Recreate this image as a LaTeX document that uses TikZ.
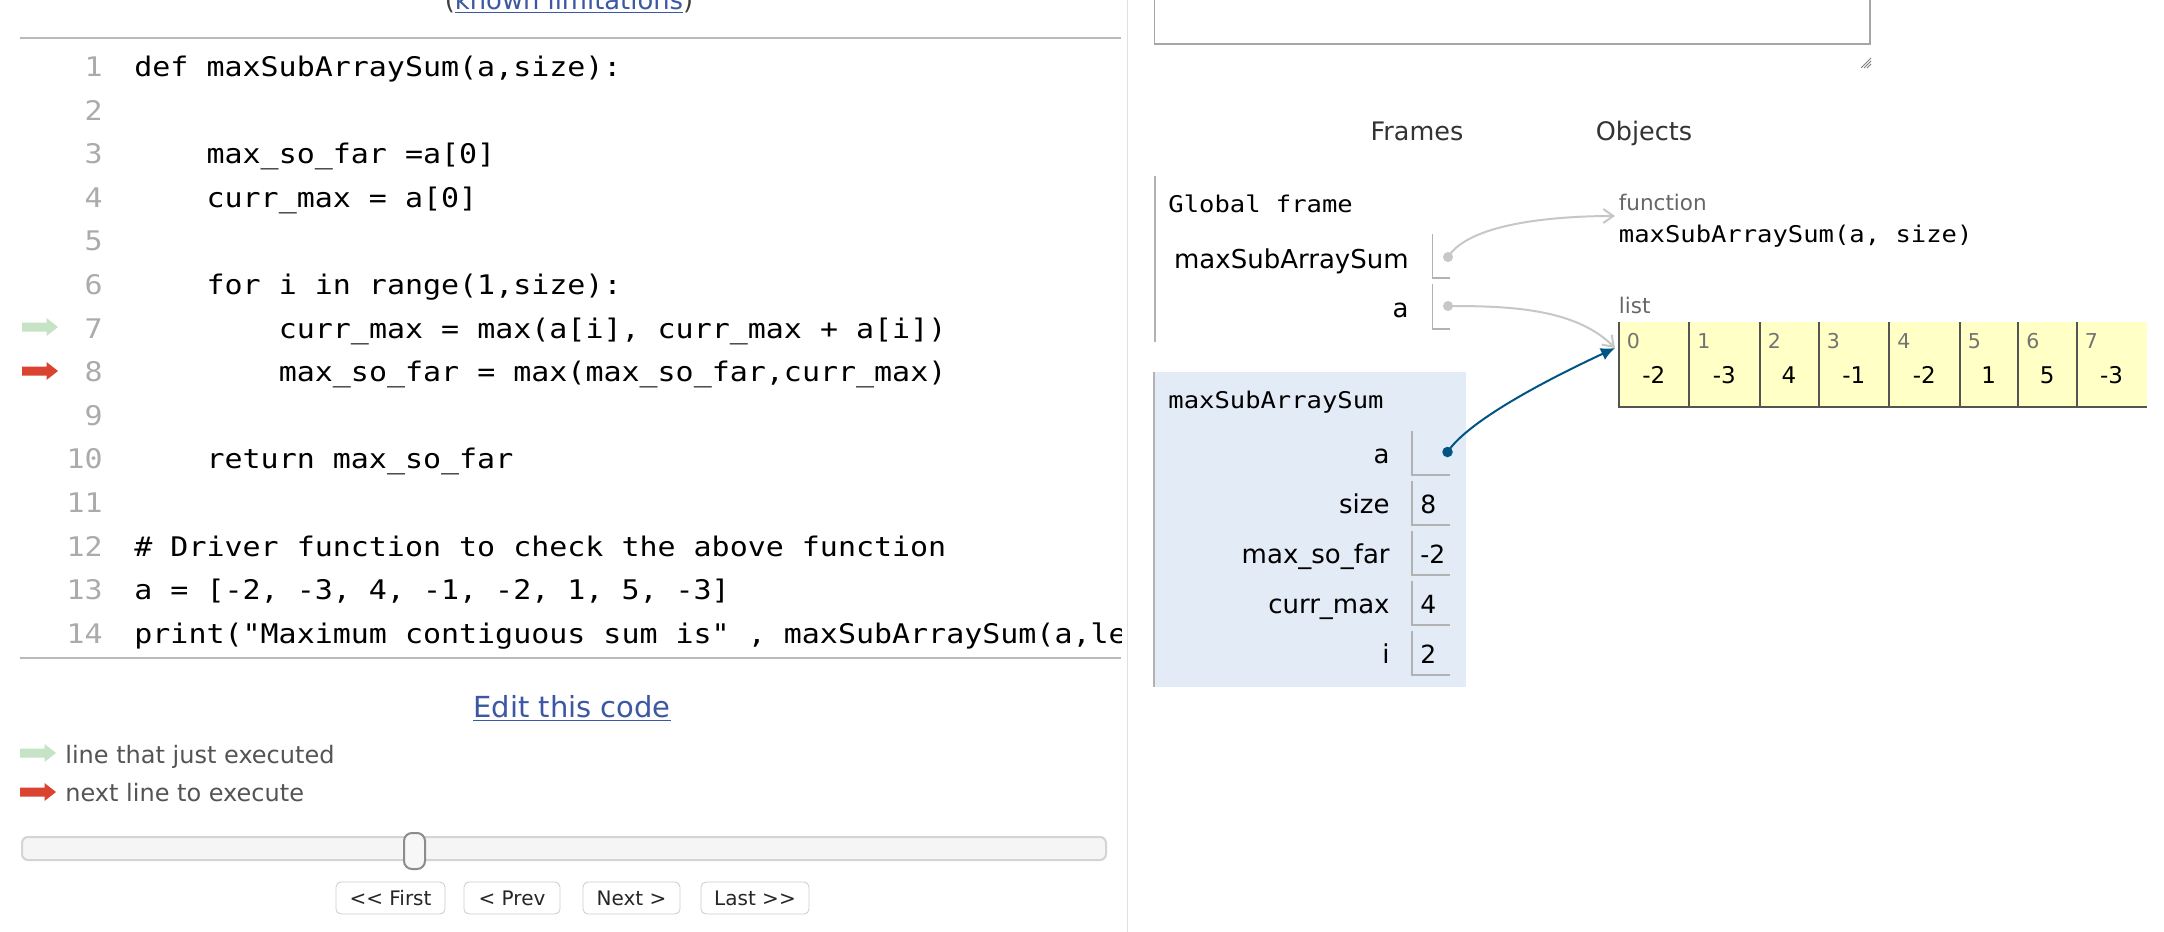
\documentclass[tikz,border=0pt]{standalone}
\usepackage{fontspec}
\setmainfont{DejaVu Sans}
\newfontfamily\koodi[FakeStretch=1.11]{DejaVu Sans Mono}
\usetikzlibrary{arrows.meta}
\definecolor{linkki}{HTML}{3D58A2}
\definecolor{osoitin}{HTML}{005583}
\definecolor{keltainen}{HTML}{FFFFC6}
\definecolor{kehysvari}{HTML}{E2EBF6}
\definecolor{vihrea}{HTML}{C6E3C6}
\definecolor{punainen}{HTML}{D9432F}
\begin{document}
\begin{tikzpicture}[x=0.5pt,y=-0.5pt,
  nro/.style={font=\koodi\fontsize{13.5}{16}\selectfont,text=black!33,inner sep=0,anchor=base east},
  koodirivi/.style={font=\koodi\fontsize{13.5}{16}\selectfont,inner sep=0,anchor=base west},
  pieni/.style={font=\koodi\fontsize{11.5}{14}\selectfont,inner sep=0,anchor=base west},
  nimi/.style={font=\fontsize{13}{15}\selectfont,inner sep=0,anchor=base east},
  arvo/.style={font=\fontsize{12.5}{15}\selectfont,inner sep=0,anchor=base west},
  otsikko/.style={font=\fontsize{12.75}{15}\selectfont,text=black!80,inner sep=0,anchor=base},
  tyyppi/.style={font=\fontsize{10.75}{13}\selectfont,text=black!60,inner sep=0,anchor=base west},
  selite/.style={font=\fontsize{12}{14}\selectfont,text=black!67,inner sep=0,anchor=base west},
  indeksi/.style={font=\fontsize{10.25}{12}\selectfont,text=black!55,inner sep=0,anchor=base west},
  alkio/.style={font=\fontsize{11.5}{14}\selectfont,inner sep=0,anchor=base},
  laatikko/.style={draw=black!30,line width=0.75pt},
  nappi/.style={draw=black!20,fill=white,rounded corners=2.5pt,inner sep=0,minimum height=16pt,font=\fontsize{10}{12}\selectfont,text=black!85},
  harmaa/.style={draw=black!22,line width=1pt,-{Straight Barb[length=5pt,width=7pt]}},
  sininen/.style={draw=osoitin,line width=1pt,-{Latex[length=7pt,width=6.5pt]}}]
\useasboundingbox (0,0) rectangle (2164,932);
\fill[white] (0,0) rectangle (2164,932);
\newcommand\rivi[3]{\node[koodirivi] (k#1) at ({134+#2*18.05},{76.5+(#1-1)*43.6}) {#3};}
\newcommand\nuoli[3]{\fill[#1] (#2,#3) ++(0,-4.5) -- ++(24.5,0) -- ++(0,-4.5) -- ++(11.5,9) -- ++(-11.5,9) -- ++(0,-4.5) -- ++(-24.5,0) -- cycle;}
% koodi
\node[font=\fontsize{12.9}{15}\selectfont,text=linkki,inner sep=0,anchor=base] (rajoitukset) at (569,9) {\textcolor{black!75}{(}\underline{known limitations}\textcolor{black!75}{)}};
\draw[black!27,line width=1pt] (20,37.5) -- (1121,37.5);
\draw[black!27,line width=1pt] (20,658) -- (1121,658);
\draw[black!12,line width=0.5pt] (1127,0) -- (1127,932);
\foreach \n in {1,...,14} \node[nro] (n\n) at (103,{76.5+(\n-1)*43.6}) {\n};
\begin{scope}
\clip (0,40) rectangle (1121,656);
\rivi{1}{0}{def maxSubArraySum(a,size):}
\rivi{3}{4}{max\_so\_far =a[0]}
\rivi{4}{4}{curr\_max = a[0]}
\rivi{6}{4}{for i in range(1,size):}
\rivi{7}{8}{curr\_max = max(a[i], curr\_max + a[i])}
\rivi{8}{8}{max\_so\_far = max(max\_so\_far,curr\_max)}
\rivi{10}{4}{return max\_so\_far}
\rivi{12}{0}{\# Driver function to check the above function}
\rivi{13}{0}{a = [-2, -3, 4, -1, -2, 1, 5, -3]}
\rivi{14}{0}{print("Maximum contiguous sum is" , maxSubArraySum(a,le}
\end{scope}
\nuoli{vihrea}{22}{327}
\nuoli{punainen}{22}{371}
% ohjaimet
\node[font=\fontsize{14.5}{17}\selectfont,text=linkki,inner sep=0,anchor=base] (muokkaa) at (572,717) {\underline{Edit this code}};
\nuoli{vihrea}{20}{753}
\nuoli{punainen}{20}{792}
\node[selite] (s1) at (65,763) {line that just executed};
\node[selite] (s2) at (65,801) {next line to execute};
\draw[black!17,fill=black!4,line width=1pt,rounded corners=3pt] (22,837) rectangle (1106,860);
\draw[black!45,fill=black!3,line width=1pt,rounded corners=4pt] (404,833) rectangle (425,869);
\node[nappi,minimum width=54.5pt] (eka) at (390.5,898) {<{}< First};
\node[nappi,minimum width=48pt] (edel) at (512,898) {< Prev};
\node[nappi,minimum width=48.5pt] (seur) at (631.5,898) {Next >};
\node[nappi,minimum width=54pt] (viim) at (755,898) {Last >{}>};
% kehykset
\draw[black!35,line width=0.75pt,fill=white] (1154.5,-10) rectangle (1870,44);
\foreach \d in {0,3,6} \draw[black!50,line width=0.5pt] (1861+\d,68) -- (1871,58+\d);
\node[otsikko] (kehykset) at (1417,140) {Frames};
\node[otsikko] (oliot) at (1644,140) {Objects};
\draw[black!30,line width=1pt] (1154.5,176) -- (1154.5,342);
\node[pieni] (globaali) at (1168,212) {Global frame};
\node[nimi] (g1) at (1409,268) {maxSubArraySum};
\node[nimi] (g2) at (1409,317) {a};
\draw[laatikko] (1432.5,234) -- (1432.5,278) -- (1450,278);
\draw[laatikko] (1432.5,284) -- (1432.5,329) -- (1450,329);
\fill[kehysvari] (1154,372) rectangle (1466,687);
\draw[black!30,line width=1pt] (1154,372) -- (1154,687);
\node[pieni] (kehys) at (1168,408) {maxSubArraySum};
\newcommand\muuttuja[4]{\node[nimi] (#1) at (1390,#3) {#2};
\draw[laatikko] (1412,#3-32) -- (1412,#3+12) -- (1450,#3+12);
\node[arvo] (#1x) at (1420,#3) {#4};}
\muuttuja{va}{a}{463}{}
\muuttuja{vsize}{size}{513}{8}
\muuttuja{vmax}{max\_so\_far}{563}{-2}
\muuttuja{vcurr}{curr\_max}{613}{4}
\muuttuja{vi}{i}{663}{2}
% oliot
\node[tyyppi] (funktio) at (1618.5,210) {function};
\node[pieni] (sig) at (1618.5,242) {maxSubArraySum(a, size)};
\node[tyyppi] (lista) at (1618.5,313) {list};
\newcommand\solu[4]{\fill[keltainen] (#2,322) rectangle ++(#3,85);
\draw[black!67,line width=1pt] (#2,322) -- (#2,407) -- ++(#3,0);
\node[indeksi] (i#1) at (#2+8,348) {#1};
\node[alkio] (s#1) at (#2+#3/2,383) {#4};}
\solu{0}{1618.5}{70.5}{-2}
\solu{1}{1689}{70.5}{-3}
\solu{2}{1759.5}{59}{4}
\solu{3}{1818.5}{70.5}{-1}
\solu{4}{1889}{70.5}{-2}
\solu{5}{1959.5}{58.5}{1}
\solu{6}{2018}{58.5}{5}
\solu{7}{2076.5}{70}{-3}
% osoittimet
\node[circle,fill=black!22,inner sep=0,minimum size=5pt] (p1) at (1448,257) {};
\node[circle,fill=black!22,inner sep=0,minimum size=5pt] (p2) at (1448,306) {};
\node[circle,fill=osoitin,inner sep=0,minimum size=5.25pt] (p3) at (1447.5,452) {};
\coordinate (fnptr) at (1615,216);
\coordinate (lstptr) at (1615,348);
\draw[harmaa] (p1.center) .. controls +(22,-35) and +(-55,0) .. (fnptr);
\draw[harmaa] (p2.center) .. controls +(60,0) and +(-40,-40) .. (lstptr);
\draw[sininen] (p3.center) .. controls +(20,-30) and +(-75,35) .. (lstptr);
\end{tikzpicture}
\end{document}
